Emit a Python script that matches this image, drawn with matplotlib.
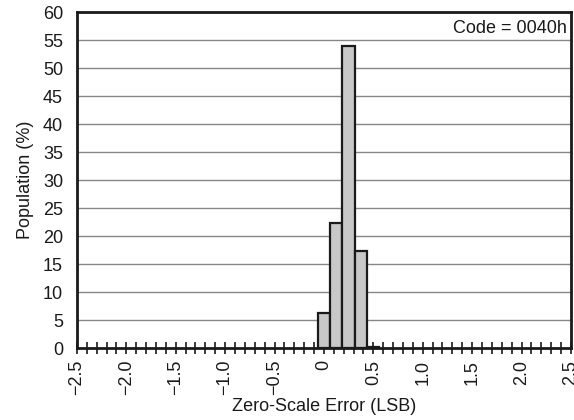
import matplotlib
matplotlib.use("Agg")
import matplotlib.pyplot as plt
import numpy as np

plt.rcParams['font.family'] = ['Liberation Sans', 'DejaVu Sans']

bin_centers = [0.0, 0.125, 0.25, 0.375, 0.5]
population = [6.2, 22.4, 54.0, 17.4, 0.2]
bin_width = 0.125
x_ticks = [-2.5, -2.0, -1.5, -1.0, -0.5, 0, 0.5, 1.0, 1.5, 2.0, 2.5]
x_tick_labels = ['\u22122.5', '\u22122.0', '\u22121.5', '\u22121.0', '\u22120.5', '0',
                 '0.5', '1.0', '1.5', '2.0', '2.5']
y_ticks = list(range(0, 61, 5))

fs = 13

fig = plt.figure(figsize=(5.74, 4.2), dpi=100)
ax = fig.add_axes([0.134, 0.1714, 0.8606, 0.80])

ax.set_axisbelow(True)
ax.yaxis.grid(True, color='#888888', linewidth=1.0)
ax.bar(bin_centers, population, width=bin_width, color='#c8c8c8',
       edgecolor='#1a1a1a', linewidth=1.6, zorder=3)

ax.set_xlim(-2.5, 2.5)
ax.set_ylim(0, 60)
ax.set_xticks(x_ticks)
ax.set_xticklabels(x_tick_labels, rotation=90, fontsize=fs)
ax.set_xticks(np.arange(-2.5, 2.51, 0.1), minor=True)
ax.set_yticks(y_ticks)
ax.tick_params(axis='y', length=0, labelsize=fs, pad=10, colors='#1a1a1a')
ax.tick_params(axis='x', which='both', direction='inout', length=9, width=1.2,
               colors='#1a1a1a', pad=4)

for s in ax.spines.values():
    s.set_linewidth(2.0)
    s.set_color('#1a1a1a')

ax.set_xlabel('Zero-Scale Error (LSB)', fontsize=fs, color='#1a1a1a', labelpad=2)
ax.set_ylabel('Population (%)', fontsize=fs, color='#1a1a1a', labelpad=6)

ax.text(0.992, 0.975, 'Code = 0040h', transform=ax.transAxes, ha='right', va='top',
        fontsize=fs, color='#1a1a1a')

fig.savefig('out.png', dpi=100)
